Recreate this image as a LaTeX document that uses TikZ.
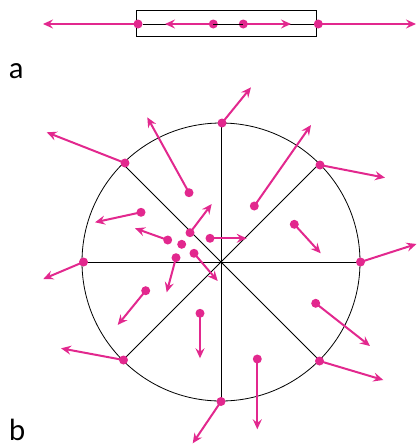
\documentclass[tikz,border=0pt]{standalone}
\usepackage{fontspec}
\setmainfont{Lato}
\usetikzlibrary{arrows.meta}
\definecolor{mag}{RGB}{226,40,142}
\tikzset{
  dot/.style={circle,fill=mag,inner sep=0pt,minimum size=9pt},
  vec/.style={draw=mag,line width=2pt,-{Stealth[length=10pt,width=9pt,inset=3.5pt]}},
  thin/.style={draw=black,line width=0.8pt},
  lbl/.style={font=\fontsize{29}{29}\selectfont,inner sep=0pt,anchor=base west}
}
\begin{document}
\begin{tikzpicture}[x=1pt,y=-1pt]
\useasboundingbox (0,0) rectangle (417,445);
% ---------- panel a ----------
\node[thin,draw,rectangle,minimum width=180pt,minimum height=26pt,inner sep=0pt] (box) at (226.7,23) {};
\node[dot] (a1) at (138,24) {};
\node[dot] (a2) at (213.3,24) {};
\node[dot] (a3) at (243.3,24) {};
\node[dot] (a4) at (318.3,24) {};
\draw[thin] (a1) -- (a4);
\coordinate (h1) at (43,24);
\coordinate (h2) at (165,24);
\coordinate (h3) at (291,24);
\coordinate (h4) at (416,24);
\draw[vec] (a1.center) -- (h1);
\draw[vec] (a2.center) -- (h2);
\draw[vec] (a3.center) -- (h3);
\draw[vec] (a4.center) -- (h4);
\node[lbl] (la) at (9,78) {a};
% ---------- panel b ----------
\coordinate (c) at (221,262);
\node[thin,draw,circle,minimum size=278pt,inner sep=0pt] (circ) at (c) {};
\foreach \a in {0,45,...,315}{
  \draw[thin] (c) -- ++(\a:139);
}
% rim points
\node[dot] (pN)  at (222,123) {};
\node[dot] (pNE) at (320,165) {};
\node[dot] (pE)  at (360.5,262) {};
\node[dot] (pSE) at (319.5,361) {};
\node[dot] (pS)  at (221,401.5) {};
\node[dot] (pSW) at (123.5,360) {};
\node[dot] (pW)  at (83.5,262) {};
\node[dot] (pNW) at (125,163) {};
% inner points
\node[dot] (q1)  at (189,192.7) {};
\node[dot] (q2)  at (141,212.3) {};
\node[dot] (q3)  at (167.7,240) {};
\node[dot] (q4)  at (190,232.7) {};
\node[dot] (q5)  at (210,238.3) {};
\node[dot] (q6)  at (181.7,244.3) {};
\node[dot] (q7)  at (176,257.7) {};
\node[dot] (q8)  at (194,253.3) {};
\node[dot] (q9)  at (145.7,290.7) {};
\node[dot] (q10) at (200,313.3) {};
\node[dot] (q11) at (315.7,303.3) {};
\node[dot] (q12) at (257.3,359) {};
\node[dot] (q13) at (254.3,206) {};
\node[dot] (q14) at (294.3,224.3) {};
% heads
\coordinate (hN)  at (251,87.3);
\coordinate (hNE) at (385,177.7);
\coordinate (hE)  at (416.5,244);
\coordinate (hSE) at (383.3,380);
\coordinate (hS)  at (192.7,443.3);
\coordinate (hSW) at (61,348.3);
\coordinate (hW)  at (43.3,279);
\coordinate (hNW) at (46.7,132.3);
\coordinate (k1)  at (147.3,117.3);
\coordinate (k2)  at (95,222.3);
\coordinate (k3)  at (135,228.3);
\coordinate (k4)  at (211.7,204);
\coordinate (k5)  at (246.7,238.3);
\coordinate (k7)  at (166.7,292.3);
\coordinate (k8)  at (217.7,281);
\coordinate (k9)  at (117.7,325);
\coordinate (k10) at (200,358.3);
\coordinate (k11) at (370,346);
\coordinate (k12) at (257.3,429.3);
\coordinate (k13) at (311,125);
\coordinate (k14) at (320.7,253.3);
\foreach \p/\h in {pN/hN,pNE/hNE,pE/hE,pSE/hSE,pS/hS,pSW/hSW,pW/hW,pNW/hNW,
  q1/k1,q2/k2,q3/k3,q4/k4,q5/k5,q7/k7,q8/k8,q9/k9,q10/k10,q11/k11,q12/k12,q13/k13,q14/k14}{
  \draw[vec] (\p.center) -- (\h);
}
\node[lbl] (lb) at (9,440) {b};
\end{tikzpicture}
\end{document}
